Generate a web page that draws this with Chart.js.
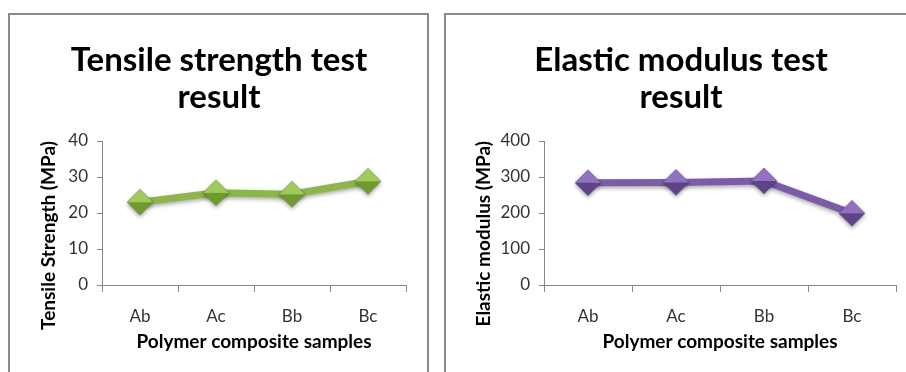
<!DOCTYPE html>
<html lang="en">
<head>
  <meta charset="UTF-8">
  <title>Tensile strength and elastic modulus test results</title>
  <style>
    body {
      margin: 0;
      padding: 0;
      width: 906px;
      height: 372px;
      overflow: hidden;
      background: #fff;
      position: relative;
      font-family: Lato, Arial, sans-serif;
    }
    .panel {
      position: absolute;
      top: 13px;
      height: 420px;
      border: 2px solid #8a8a8a;
      box-sizing: border-box;
      background: #fff;
    }
    #leftPanel { left: 8px; width: 421px; }
    #rightPanel { left: 444px; width: 520px; }
    canvas { position: absolute; top: 15px; }
    /* canvases start so that the title centre lands where Excel put it */
    #tensileChart { left: 32px; }
    #modulusChart { left: 464px; }
  </style>
  <script src="https://cdn.jsdelivr.net/npm/chart.js"></script>
</head>
<body>
  <div class="panel" id="leftPanel"></div>
  <div class="panel" id="rightPanel"></div>
  <canvas id="tensileChart" width="394" height="357"></canvas>
  <canvas id="modulusChart" width="452" height="357"></canvas>

  <script>
    const categories = ['Ab', 'Ac', 'Bb', 'Bc'];
    const tensileValues = [23.0, 25.6, 25.2, 28.8];
    const modulusValues = [284, 285, 289, 199];
    const tensileTicks = [0, 10, 20, 30, 40];
    const modulusTicks = [0, 100, 200, 300, 400];

    // beveled diamond marker like the Excel one
    function makeDiamond(light, dark, r) {
      const c = document.createElement('canvas');
      c.width = c.height = 2 * r + 2;
      const g = c.getContext('2d');
      const m = r + 1;
      const diamond = () => {
        g.beginPath();
        g.moveTo(m, m - r); g.lineTo(m + r, m); g.lineTo(m, m + r); g.lineTo(m - r, m);
        g.closePath();
      };
      diamond();
      g.fillStyle = dark;
      g.fill();
      g.beginPath();
      g.moveTo(m, m - r); g.lineTo(m + r, m); g.lineTo(m - r, m);
      g.closePath();
      const grad = g.createLinearGradient(0, m - r, 0, m);
      grad.addColorStop(0, light);
      grad.addColorStop(1, dark);
      g.fillStyle = light;
      g.fill();
      diamond();
      g.strokeStyle = 'rgba(0,0,0,0.12)';
      g.lineWidth = 1;
      g.stroke();
      return c;
    }

    const shadowPlugin = {
      id: 'softShadow',
      beforeDatasetsDraw(chart) {
        const ctx = chart.ctx;
        ctx.save();
        ctx.shadowColor = 'rgba(0,0,0,0.35)';
        ctx.shadowBlur = 4;
        ctx.shadowOffsetY = 2;
      },
      afterDatasetsDraw(chart) {
        chart.ctx.restore();
      }
    };

    function buildChart(id, opts) {
      const ticks = opts.ticks;
      return new Chart(document.getElementById(id), {
        type: 'line',
        data: {
          labels: categories,
          datasets: [{
            data: opts.values,
            borderColor: opts.lineColor,
            borderWidth: 7,
            tension: 0,
            pointStyle: makeDiamond(opts.light, opts.dark, 13),
            pointRadius: 13,
            pointHoverRadius: 13
          }]
        },
        options: {
          responsive: false,
          animation: false,
          events: [],
          layout: { padding: { left: 0, right: opts.padRight, top: 0, bottom: 0 } },
          plugins: {
            legend: { display: false },
            tooltip: { enabled: false },
            title: {
              display: true,
              text: opts.title,
              color: '#000',
              font: { family: 'Lato', size: 33, weight: 'bold', lineHeight: 37 / 33 },
              padding: { top: 26.5, bottom: 25.5 }
            }
          },
          scales: {
            x: {
              offset: true,
              grid: {
                offset: true,
                drawOnChartArea: false,
                drawTicks: true,
                tickLength: 7,
                color: '#868686'
              },
              border: { color: '#868686', width: 1 },
              ticks: { color: '#333', padding: 14, font: { family: 'Lato', size: 17 } },
              title: {
                display: true,
                text: 'Polymer composite samples',
                color: '#000',
                font: { family: 'Lato', size: 19, weight: 'bold' },
                padding: { top: 0, bottom: 19 }
              },
              afterFit(scale) { scale.height = 87; }
            },
            y: {
              min: ticks[0],
              max: ticks[ticks.length - 1],
              grid: {
                drawOnChartArea: false,
                drawTicks: true,
                tickLength: 5,
                color: '#868686'
              },
              border: { color: '#868686', width: 1 },
              ticks: {
                stepSize: ticks[1] - ticks[0],
                color: '#333',
                padding: 9,
                font: { family: 'Lato', size: 17 }
              },
              title: {
                display: true,
                text: opts.yTitle,
                align: 'end',
                color: '#000',
                font: { family: 'Lato', size: 19, weight: 'bold' },
                padding: { top: opts.yTitlePad, bottom: 0 }
              },
              afterFit(scale) { scale.width = opts.yWidth; }
            }
          }
        },
        plugins: [shadowPlugin]
      });
    }

    buildChart('tensileChart', {
      values: tensileValues,
      ticks: tensileTicks,
      title: ['Tensile strength test', 'result'],
      yTitle: 'Tensile Strength (MPa)',
      lineColor: '#8db54c',
      light: '#a0ca59',
      dark: '#6f9a2e',
      padRight: 20,
      yWidth: 70,
      yTitlePad: 5
    });

    buildChart('modulusChart', {
      values: modulusValues,
      ticks: modulusTicks,
      title: ['Elastic modulus test', 'result'],
      yTitle: 'Elastic modulus (MPa)',
      lineColor: '#7d5ca7',
      light: '#9172c1',
      dark: '#5e4487',
      padRight: 18,
      yWidth: 80,
      yTitlePad: 8
    });
  </script>
</body>
</html>
